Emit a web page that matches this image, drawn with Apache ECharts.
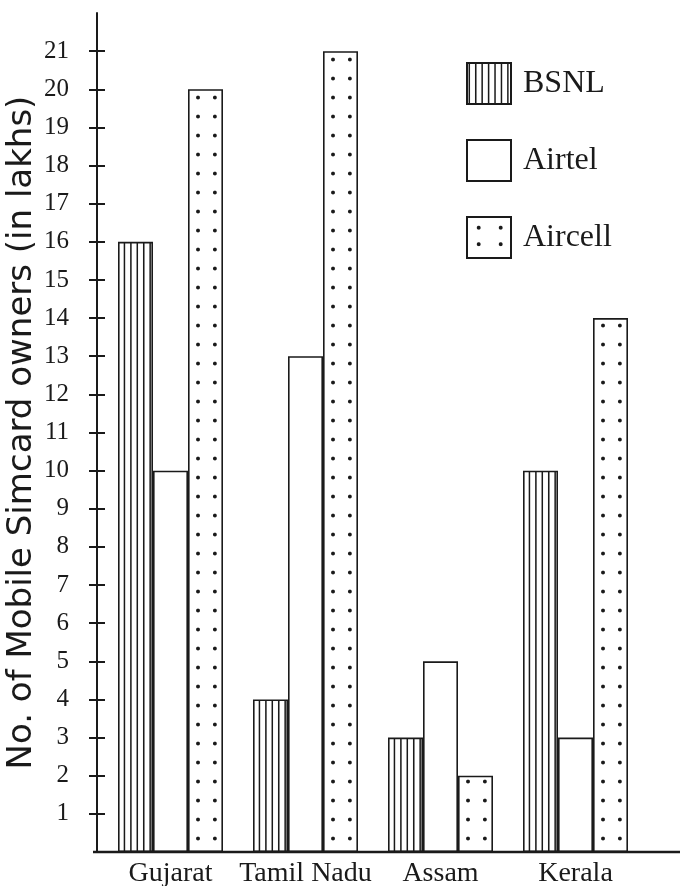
<!DOCTYPE html>
<html>
<head>
<meta charset="utf-8">
<script src="https://cdn.jsdelivr.net/npm/echarts@6/dist/echarts.min.js"></script>
<style>
html,body{margin:0;padding:0;background:#fff;}
#c{width:680px;height:886px;}
</style>
</head>
<body>
<div id="c"></div>
<script>
var categories = ['Gujarat', 'Tamil Nadu', 'Assam', 'Kerala'];
var seriesNames = ['BSNL', 'Airtel', 'Aircell'];
var bsnl = [16, 4, 3, 10];
var airtel = [10, 13, 5, 3];
var aircell = [20, 21, 2, 14];
var yTicks = [1,2,3,4,5,6,7,8,9,10,11,12,13,14,15,16,17,18,19,20,21];
var yAxisName = 'No. of Mobile Simcard owners (in lakhs)';

var ink = '#1a1a1a';
var serif = '"Liberation Serif", "DejaVu Serif", serif';

// ---- fill patterns (style only) ----
var S = 2; // draw tiles at 2x, scale back for crispness
function tile(w, h, draw) {
  var c = document.createElement('canvas');
  c.width = Math.round(w * S); c.height = Math.round(h * S);
  var g = c.getContext('2d');
  g.fillStyle = '#fff'; g.fillRect(0, 0, c.width, c.height);
  g.fillStyle = ink;
  g.scale(S, S);
  draw(g);
  return { image: c, repeat: 'repeat', scaleX: 1 / S, scaleY: 1 / S };
}
// vertical stripes
function stripes(w, h, n, phase, lw) {
  return tile(w, h, function (g) {
    var p = w / n;
    for (var k = 0; k < n; k++) g.fillRect(phase + k * p - lw / 2, 0, lw, h);
  });
}
// dot grid
function dots(w, h, n, phaseX, phaseY, sz) {
  return tile(w, h, function (g) {
    var p = w / n;
    for (var k = 0; k < n; k++) {
      g.beginPath();
      g.arc(phaseX + k * p, phaseY, sz / 2, 0, Math.PI * 2);
      g.fill();
    }
  });
}

var stripeFill = stripes(135, 10, 21, 2.29, 1.5);
var dotFill = dots(135, 19, 8, 12.375, 2.5, 3.8);
var legendDotFill = dots(22, 16.5, 1, 11.7, 10.7, 3.8);

var chart = echarts.init(document.getElementById('c'));

function barStyle(fill) {
  return { color: fill, borderColor: ink, borderWidth: 1.6 };
}

var yCommon = {
  type: 'value', min: 0, max: 22, offset: 6,
  axisLine: { show: true, lineStyle: { color: ink, width: 2 } },
  splitLine: { show: false }
};

chart.setOption({
  animation: false,
  backgroundColor: '#fff',
  grid: { left: 103, right: 37, top: 13, bottom: 34, containLabel: false, outerBoundsMode: 'none' },
  legend: {
    orient: 'vertical', left: 461, top: 57,
    itemWidth: 44, itemHeight: 41, itemGap: 34, icon: 'rect',
    data: [
      { name: seriesNames[0] },
      { name: seriesNames[1] },
      { name: seriesNames[2], itemStyle: { color: legendDotFill } }
    ],
    textStyle: { fontFamily: serif, fontSize: 32, color: ink, padding: [0, 0, 0, 7] }
  },
  xAxis: {
    type: 'category', data: categories,
    axisLine: { show: false },
    axisTick: { show: false },
    axisLabel: { interval: 0, fontFamily: serif, fontSize: 28, color: ink, margin: 8 }
  },
  yAxis: [
    Object.assign({}, yCommon, {
      name: yAxisName, nameLocation: 'middle', nameGap: 58, nameRotate: 90, nameMoveOverlap: false,
      nameTextStyle: { fontFamily: '"DejaVu Sans", sans-serif', fontSize: 34, color: ink },
      axisTick: { show: true, inside: false, length: 8, lineStyle: { color: ink, width: 2 }, customValues: yTicks },
      axisLabel: { show: true, fontFamily: serif, fontSize: 25, color: ink, margin: 28, customValues: yTicks }
    }),
    Object.assign({}, yCommon, {
      position: 'left',
      axisLine: { show: false },
      axisTick: { show: true, inside: true, length: 8, lineStyle: { color: ink, width: 2 }, customValues: yTicks },
      axisLabel: { show: false }
    })
  ],
  graphic: [{
    type: 'line', z: 100,
    shape: { x1: 93, y1: 852, x2: 680, y2: 852 },
    style: { stroke: ink, lineWidth: 2.5 }
  }],
  series: [
    { name: seriesNames[0], type: 'bar', data: bsnl, barWidth: 35, barGap: '0%', itemStyle: barStyle(stripeFill) },
    { name: seriesNames[1], type: 'bar', data: airtel, barWidth: 35, barGap: '0%', itemStyle: barStyle('#fff') },
    { name: seriesNames[2], type: 'bar', data: aircell, barWidth: 35, barGap: '0%', itemStyle: barStyle(dotFill) }
  ]
});
</script>
</body>
</html>
